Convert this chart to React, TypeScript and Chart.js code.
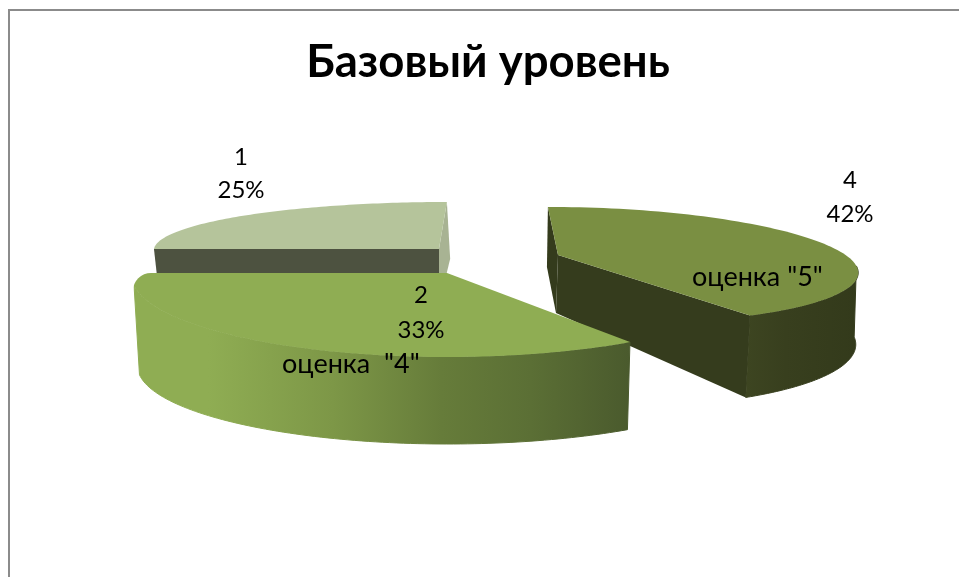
import React, { useEffect, useRef } from "react";
import { Chart, registerables } from "chart.js";

Chart.register(...registerables);

const categories = ["2", "1", "4"];
const values = [33, 25, 42];
const topColors = ["#8fad53", "#b5c49b", "#7a8f42"];
const titleText = "Базовый уровень";
const noteTexts = ['оценка  "4"', 'оценка "5"'];

const FONT = "Lato, 'Open Sans', sans-serif";
const DEG = Math.PI / 180;

type Ell = { cx: number; cy: number; a: number; b: number; c: number; d: number };
type Proj = {
  apexTop: [number, number];
  apexBottom: [number, number];
  top: Ell;
  bottom: Ell;
  clip?: [number, number, number, number, number];
  shoulder?: [number, number];
  radialWalls: { angle: "start" | "end"; color: string }[];
  outer?: [number, string][];
  outerFrom?: number;
  outerRange?: [number, number];
};

// The perspective of the exploded 3D pie: one projection per slice.
const projections: Proj[] = [
  {
    apexTop: [447, 273],
    apexBottom: [447, 366],
    top: { cx: 447.6, cy: 276, a: 315.6, c: 0, b: 0, d: 81 },
    bottom: { cx: 448, cy: 366, a: 310.5, c: 0, b: 0, d: 78 },
    clip: [133, 273, 520, 190, 18],
    shoulder: [134, 273],
    radialWalls: [],
    outerRange: [134, 630],
    outer: [
      [0.15, "#8fad53"],
      [0.4, "#7d9747"],
      [0.62, "#667c3a"],
      [0.8, "#5b6f35"],
      [1, "#4a5a2d"],
    ],
  },
  {
    apexTop: [439, 249],
    apexBottom: [439, 305],
    top: { cx: 439, cy: 249, a: 282.3, c: -40.1, b: 5.3, d: 46.7 },
    bottom: { cx: 442, cy: 305, a: 279, c: -40, b: 5, d: 46 },
    radialWalls: [
      { angle: "start", color: "#4d5240" },
      { angle: "end", color: "#a8b393" },
    ],
  },
  {
    apexTop: [558, 255],
    apexBottom: [556, 313],
    top: { cx: 586.6, cy: 265, a: 271.5, c: 8, b: 6, d: 57.7 },
    bottom: { cx: 583.7, cy: 337, a: 272, c: 6, b: 6, d: 69.8 },
    radialWalls: [
      { angle: "start", color: "#343b1c" },
      { angle: "end", color: "#353c1d" },
    ],
    outerFrom: 355 * DEG,
    outerRange: [746, 859],
    outer: [
      [0, "#3d4521"],
      [0.35, "#383f1e"],
      [1, "#333a1b"],
    ],
  },
];

const labelPositions: [number, number, number][] = [
  [421, 295, 330],
  [241, 157, 190],
  [850, 180, 214],
];
const notePositions: [number, number][] = [
  [282, 364],
  [692, 277],
];

const pt = (e: Ell, t: number): [number, number] => [
  e.cx + e.a * Math.cos(t) + e.c * Math.sin(t),
  e.cy + e.b * Math.cos(t) + e.d * Math.sin(t),
];

const pie3d = {
  id: "pie3d",
  beforeDraw(chart: any) {
    const { ctx, width, height } = chart;
    ctx.save();
    ctx.fillStyle = "#ffffff";
    ctx.fillRect(0, 0, width, height);
    ctx.strokeStyle = "#8b8b8b";
    ctx.lineWidth = 2;
    ctx.beginPath();
    ctx.moveTo(9, height);
    ctx.lineTo(9, 10);
    ctx.lineTo(width, 10);
    ctx.stroke();
    ctx.restore();
  },
  beforeDatasetsDraw(chart: any) {
    const { ctx } = chart;
    const arcs = chart.getDatasetMeta(0).data;
    const N = 90;
    // back-to-front: the right slice, the back slice, the front slice
    [2, 1, 0].forEach((i) => {
      const arc = arcs[i];
      const p = projections[i];
      const { startAngle, endAngle } = arc.getProps(["startAngle", "endAngle"]);
      ctx.save();
      if (p.clip) {
        const [x, y, w, h, r] = p.clip;
        ctx.beginPath();
        ctx.roundRect(x, y, w, h, [r, 0, 0, 0]);
        ctx.clip();
      }
      // outer wall
      if (p.outer && p.outerRange) {
        const from = p.outerFrom ?? startAngle;
        const at = (k: number) => from + ((endAngle - from) * k) / N;
        const g = ctx.createLinearGradient(p.outerRange[0], 0, p.outerRange[1], 0);
        p.outer.forEach(([o, c]) => g.addColorStop(o, c));
        ctx.fillStyle = g;
        ctx.strokeStyle = g;
        ctx.lineWidth = 1;
        ctx.beginPath();
        for (let k = 0; k <= N; k++) {
          const q = pt(p.top, at(k));
          if (k === 0) ctx.moveTo(...q);
          else ctx.lineTo(...q);
        }
        for (let k = N; k >= 0; k--) ctx.lineTo(...pt(p.bottom, at(k)));
        ctx.closePath();
        ctx.fill();
        ctx.stroke();
      }
      // radial walls
      p.radialWalls.forEach((w) => {
        const t = w.angle === "start" ? startAngle : endAngle;
        ctx.fillStyle = w.color;
        ctx.strokeStyle = w.color;
        ctx.lineWidth = 1;
        ctx.beginPath();
        ctx.moveTo(...p.apexTop);
        ctx.lineTo(...pt(p.top, t));
        ctx.lineTo(...pt(p.bottom, t));
        ctx.lineTo(...p.apexBottom);
        ctx.closePath();
        ctx.fill();
      });
      // top face
      ctx.fillStyle = arc.options.backgroundColor;
      ctx.beginPath();
      ctx.moveTo(...p.apexTop);
      for (let k = 0; k <= N; k++) {
        ctx.lineTo(...pt(p.top, startAngle + ((endAngle - startAngle) * k) / N));
      }
      if (p.shoulder) ctx.lineTo(...p.shoulder);
      ctx.closePath();
      ctx.fill();
      ctx.restore();
    });
    return false;
  },
  afterDraw(chart: any) {
    const { ctx } = chart;
    const data = chart.data.datasets[0].data as number[];
    const total = data.reduce((s, v) => s + v, 0);
    ctx.save();
    ctx.fillStyle = "#000000";
    ctx.font = `24px ${FONT}`;
    ctx.textAlign = "center";
    ctx.textBaseline = "middle";
    data.forEach((v, i) => {
      const [x, y1, y2] = labelPositions[i];
      ctx.fillText(String(chart.data.labels[i]), x, y1);
      ctx.fillText(`${Math.round((v / total) * 100)}%`, x, y2);
    });
    ctx.font = `27px ${FONT}`;
    ctx.textAlign = "left";
    noteTexts.forEach((t, i) => {
      ctx.fillText(t, notePositions[i][0], notePositions[i][1]);
    });
    ctx.restore();
  },
};

export default function App() {
  const ref = useRef<HTMLCanvasElement>(null);
  useEffect(() => {
    document.body.style.margin = "0";
    const chart = new Chart(ref.current!, {
      type: "pie",
      data: {
        labels: categories,
        datasets: [{ data: values, backgroundColor: topColors, borderWidth: 0 }],
      },
      options: {
        responsive: false,
        animation: false,
        rotation: 144.7,
        layout: { padding: { left: 17 } },
        plugins: {
          legend: { display: false },
          tooltip: { enabled: false },
          title: {
            display: true,
            text: titleText,
            color: "#000000",
            font: { family: FONT, size: 45.5, weight: "bold" },
            padding: { top: 35, bottom: 10 },
          },
        },
      },
      plugins: [pie3d],
    } as any);
    return () => chart.destroy();
  }, []);
  return <canvas ref={ref} width={959} height={577} style={{ display: "block" }} />;
}
